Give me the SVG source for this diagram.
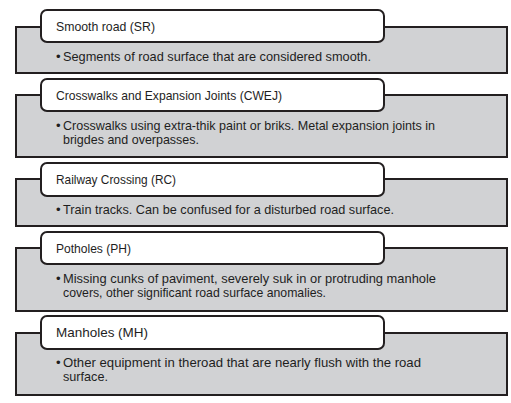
<svg xmlns="http://www.w3.org/2000/svg" width="511" height="403" viewBox="0 0 511 403">
<style>
.panel{fill:#d1d2d4;stroke:#231f20;stroke-width:2}
.tab{fill:#ffffff;stroke:#231f20;stroke-width:2}
text{font-family:"Liberation Sans",Arial,sans-serif;font-size:13.2px;fill:#1e1e1e}
</style>
<rect width="511" height="403" fill="#ffffff"/>
<g id="node-sr">
<rect class="panel" x="16" y="27" width="491" height="46"/>
<rect class="tab" x="41" y="10" width="343" height="32" rx="6"/>
<text x="56" y="30.5" textLength="99" lengthAdjust="spacingAndGlyphs">Smooth road (SR)</text>
<text x="56" y="61">•</text>
<text x="63" y="61" textLength="308" lengthAdjust="spacingAndGlyphs">Segments of road surface that are considered smooth.</text>
</g>
<g id="node-cwej">
<rect class="panel" x="16" y="95" width="491" height="62"/>
<rect class="tab" x="41" y="79" width="343" height="32" rx="6"/>
<text x="56" y="99.5" textLength="226" lengthAdjust="spacingAndGlyphs">Crosswalks and Expansion Joints (CWEJ)</text>
<text x="56" y="130">•</text>
<text x="63" y="130" textLength="372" lengthAdjust="spacingAndGlyphs">Crosswalks using extra-thik paint or briks. Metal expansion joints in</text>
<text x="63" y="144" textLength="136" lengthAdjust="spacingAndGlyphs">brigdes and overpasses.</text>
</g>
<g id="node-rc">
<rect class="panel" x="16" y="179" width="491" height="47"/>
<rect class="tab" x="41" y="163" width="343" height="33" rx="6"/>
<text x="56" y="184" textLength="120" lengthAdjust="spacingAndGlyphs">Railway Crossing (RC)</text>
<text x="56" y="214">•</text>
<text x="63" y="214" textLength="331" lengthAdjust="spacingAndGlyphs">Train tracks. Can be confused for a disturbed road surface.</text>
</g>
<g id="node-ph">
<rect class="panel" x="16" y="248" width="491" height="63"/>
<rect class="tab" x="41" y="232" width="343" height="32" rx="6"/>
<text x="56" y="252.5" textLength="75" lengthAdjust="spacingAndGlyphs">Potholes (PH)</text>
<text x="56" y="282.5">•</text>
<text x="63" y="282.5" textLength="373" lengthAdjust="spacingAndGlyphs">Missing cunks of paviment, severely suk in or protruding manhole</text>
<text x="63" y="296.5" textLength="263" lengthAdjust="spacingAndGlyphs">covers, other significant road surface anomalies.</text>
</g>
<g id="node-mh">
<rect class="panel" x="16" y="333" width="491" height="62"/>
<rect class="tab" x="41" y="316" width="343" height="33" rx="6"/>
<text x="56" y="337" textLength="92" lengthAdjust="spacingAndGlyphs">Manholes (MH)</text>
<text x="56" y="367">•</text>
<text x="63" y="367" textLength="358" lengthAdjust="spacingAndGlyphs">Other equipment in theroad that are nearly flush with the road</text>
<text x="63" y="381" textLength="45" lengthAdjust="spacingAndGlyphs">surface.</text>
</g>
</svg>
